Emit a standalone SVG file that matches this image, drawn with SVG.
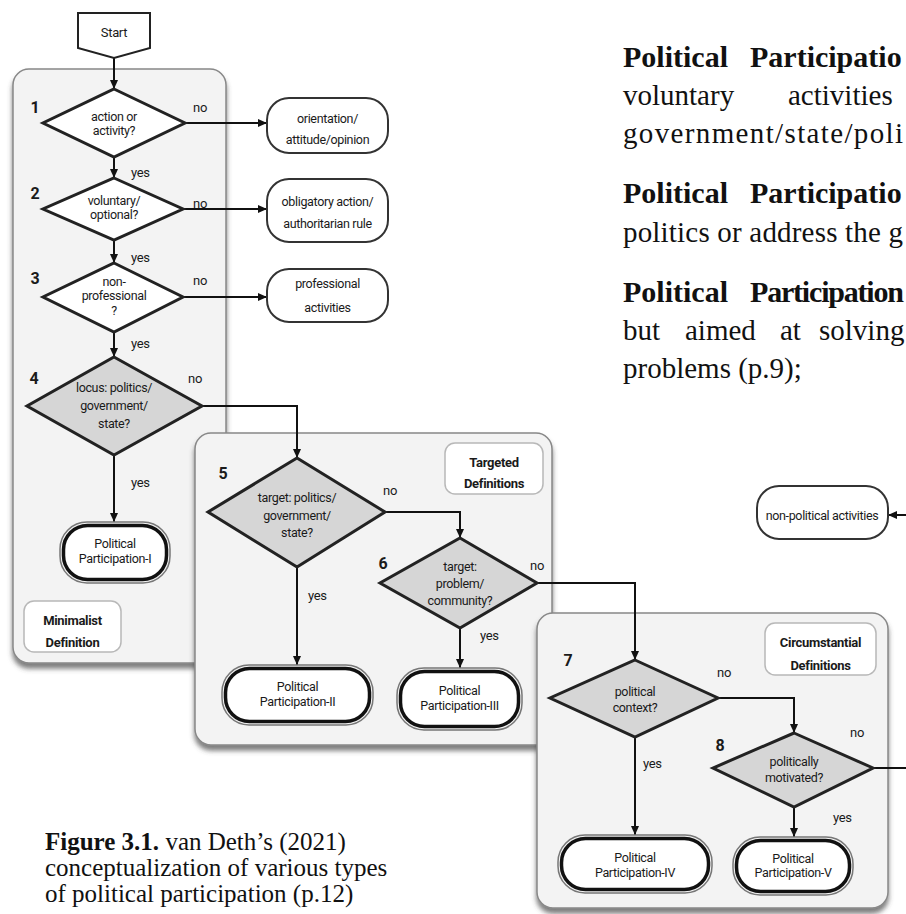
<svg xmlns="http://www.w3.org/2000/svg" width="906" height="914" viewBox="0 0 906 914">
<defs>
<style>
.panel{fill:#f3f3f3;stroke:#888;stroke-width:1.5}
.tag{fill:#fff;stroke:#b8b8b8;stroke-width:1.5}
.dw{fill:#fff;stroke:#222;stroke-width:3}
.dg{fill:#d6d6d6;stroke:#222;stroke-width:3}
.pill{fill:#fff;stroke:#333;stroke-width:2}
.ppo{fill:none;stroke:#777;stroke-width:1.5}
.ppi{fill:#fff;stroke:#111;stroke-width:3.5}
.c{fill:none;stroke:#111;stroke-width:2}
.ca{fill:none;stroke:#111;stroke-width:2;marker-end:url(#ah)}
text{font-family:Roboto,"Liberation Sans",sans-serif}
.t{font-size:12.5px;fill:#1a1a1a;text-anchor:middle;letter-spacing:-0.35px}
.yn{font-size:13px;fill:#1a1a1a;letter-spacing:-0.3px}
.no{font-size:13px;fill:#1a1a1a;text-anchor:middle;letter-spacing:-0.3px}
.n{font-size:16px;font-weight:bold;fill:#1a1a1a;text-anchor:middle}
.h{font-size:13px;font-weight:bold;fill:#1a1a1a;text-anchor:middle;letter-spacing:-0.3px}
.s{font-family:"Liberation Serif","Times New Roman",serif;fill:#111;font-size:29px}
.sb{font-family:"Liberation Serif","Times New Roman",serif;fill:#111;font-size:30px;font-weight:bold}
.cap{font-family:"Liberation Serif","Times New Roman",serif;fill:#111;font-size:25px}
</style>
<filter id="sh" x="-5%" y="-5%" width="110%" height="115%">
<feDropShadow dx="0" dy="5" stdDeviation="2.5" flood-color="#444" flood-opacity="0.7"/>
</filter>
<marker id="ah" markerUnits="userSpaceOnUse" markerWidth="9" markerHeight="8" refX="9" refY="4" orient="auto" viewBox="0 0 9 8">
<path d="M0,0 L9,4 L0,8 z" fill="#111"/>
</marker>
</defs>
<rect x="0" y="0" width="906" height="914" fill="#fff"/>

<g id="panel-minimalist"><rect class="panel" x="13" y="69" width="213" height="594" rx="16" filter="url(#sh)"/></g>
<g id="panel-targeted"><rect class="panel" x="195" y="433" width="357" height="312" rx="16" filter="url(#sh)"/></g>
<g id="panel-circumstantial"><rect class="panel" x="537" y="613" width="351" height="295" rx="16" filter="url(#sh)"/></g>

<g id="connectors">
<path class="ca" d="M114,58 V89"/>
<path class="ca" d="M114,157 V178"/>
<path class="ca" d="M114,240 V263"/>
<path class="ca" d="M114,332 V357"/>
<path class="ca" d="M114,455 V522"/>
<path class="ca" d="M185,123 H267"/>
<path class="ca" d="M183,209 H267"/>
<path class="ca" d="M183,297 H267"/>
<path class="ca" d="M202,406 H297 V458"/>
<path class="ca" d="M297,567 V665"/>
<path class="ca" d="M385,512 H460 V538"/>
<path class="ca" d="M460,628 V668"/>
<path class="ca" d="M537,583 H635 V660"/>
<path class="ca" d="M635,737 V835"/>
<path class="ca" d="M718,698 H794 V733"/>
<path class="ca" d="M794,807 V837"/>
<path class="c" d="M873,768 H906"/>
<path class="ca" d="M906,515 H888"/>
<text class="yn" x="131" y="176.5">yes</text>
<text class="yn" x="131" y="261.5">yes</text>
<text class="yn" x="131" y="347.5">yes</text>
<text class="yn" x="131" y="486.5">yes</text>
<text class="yn" x="308" y="599.5">yes</text>
<text class="yn" x="480" y="639.5">yes</text>
<text class="yn" x="643" y="767.5">yes</text>
<text class="yn" x="833" y="821.5">yes</text>
<text class="no" x="200" y="111.5">no</text>
<text class="no" x="200" y="207.5">no</text>
<text class="no" x="200" y="284.5">no</text>
<text class="no" x="195" y="382.5">no</text>
<text class="no" x="390" y="494.5">no</text>
<text class="no" x="537" y="569.5">no</text>
<text class="no" x="724" y="676.5">no</text>
<text class="no" x="857" y="736.5">no</text>
</g>

<g id="start">
<path d="M78,13 H150 V48 L114,58 L78,48 Z" fill="#fff" stroke="#222" stroke-width="2"/>
<text class="t" x="114" y="37" style="font-size:13px">Start</text>
</g>

<g id="q1">
<polygon class="dw" points="114,89 185,123 114,157 43,123"/>
<text class="n" x="35" y="113">1</text>
<text class="t" x="114" y="121">action or</text>
<text class="t" x="114" y="135">activity?</text>
</g>
<g id="q2">
<polygon class="dw" points="114,178 183,209 114,240 43,209"/>
<text class="n" x="35" y="199">2</text>
<text class="t" x="114" y="205">voluntary/</text>
<text class="t" x="114" y="219">optional?</text>
</g>
<g id="q3">
<polygon class="dw" points="114,263 183,297 114,332 43,297"/>
<text class="n" x="35" y="284">3</text>
<text class="t" x="114" y="286">non-</text>
<text class="t" x="114" y="300">professional</text>
<text class="t" x="114" y="315">?</text>
</g>
<g id="q4">
<polygon class="dg" points="114,357 202,406 114,455 27,406"/>
<text class="n" x="34" y="384">4</text>
<text class="t" x="114" y="392">locus: politics/</text>
<text class="t" x="114" y="410">government/</text>
<text class="t" x="114" y="428">state?</text>
</g>

<g id="orientation">
<rect class="pill" x="267" y="98" width="121" height="55" rx="22"/>
<text class="t" x="327.5" y="122.5">orientation/</text>
<text class="t" x="327.5" y="143.5">attitude/opinion</text>
</g>
<g id="obligatory">
<rect class="pill" x="267" y="179" width="121" height="63" rx="22"/>
<text class="t" x="327.5" y="205.5">obligatory action/</text>
<text class="t" x="327.5" y="227.5">authoritarian rule</text>
</g>
<g id="professional">
<rect class="pill" x="267" y="269" width="121" height="53" rx="22"/>
<text class="t" x="327.5" y="287.5">professional</text>
<text class="t" x="327.5" y="311.5">activities</text>
</g>

<g id="pp1">
<rect class="ppo" x="60" y="522" width="110" height="61" rx="27"/>
<rect class="ppi" x="63.5" y="525.5" width="103" height="54" rx="24"/>
<text class="t" x="115" y="548">Political</text>
<text class="t" x="115" y="562.5">Participation-I</text>
</g>
<g id="tag-minimalist">
<rect class="tag" x="24" y="601" width="97" height="51" rx="10"/>
<text class="h" x="72.5" y="624.5">Minimalist</text>
<text class="h" x="72.5" y="646.5">Definition</text>
</g>

<g id="q5">
<polygon class="dg" points="297,458 385,512 297,567 208,512"/>
<text class="n" x="223" y="479">5</text>
<text class="t" x="297" y="502">target: politics/</text>
<text class="t" x="297" y="520">government/</text>
<text class="t" x="297" y="537">state?</text>
</g>
<g id="q6">
<polygon class="dg" points="460,538 537,583 460,628 380,583"/>
<text class="n" x="383" y="569">6</text>
<text class="t" x="460" y="571">target:</text>
<text class="t" x="460" y="588">problem/</text>
<text class="t" x="460" y="605">community?</text>
</g>
<g id="pp2">
<rect class="ppo" x="222" y="665" width="151" height="60" rx="27"/>
<rect class="ppi" x="225.5" y="668.5" width="144" height="53" rx="24"/>
<text class="t" x="297.5" y="690.5">Political</text>
<text class="t" x="297.5" y="705.5">Participation-II</text>
</g>
<g id="pp3">
<rect class="ppo" x="397" y="668" width="125" height="62" rx="27"/>
<rect class="ppi" x="400.5" y="671.5" width="118" height="55" rx="24"/>
<text class="t" x="459.5" y="695">Political</text>
<text class="t" x="459.5" y="709.5">Participation-III</text>
</g>
<g id="tag-targeted">
<rect class="tag" x="445" y="443" width="98" height="51" rx="10"/>
<text class="h" x="494" y="466.5">Targeted</text>
<text class="h" x="494" y="487.5">Definitions</text>
</g>

<g id="q7">
<polygon class="dg" points="635,660 718,698 635,737 550,698"/>
<text class="n" x="568" y="666">7</text>
<text class="t" x="635" y="696">political</text>
<text class="t" x="635" y="712">context?</text>
</g>
<g id="q8">
<polygon class="dg" points="794,733 873,768 794,807 713,768"/>
<text class="n" x="720" y="751">8</text>
<text class="t" x="794" y="766">politically</text>
<text class="t" x="794" y="782">motivated?</text>
</g>
<g id="pp4">
<rect class="ppo" x="558" y="835" width="154" height="58" rx="27"/>
<rect class="ppi" x="561.5" y="838.5" width="147" height="51" rx="24"/>
<text class="t" x="635" y="861.5">Political</text>
<text class="t" x="635" y="876.5">Participation-IV</text>
</g>
<g id="pp5">
<rect class="ppo" x="733" y="837" width="120" height="58" rx="27"/>
<rect class="ppi" x="736.5" y="840.5" width="113" height="51" rx="24"/>
<text class="t" x="793" y="862.5">Political</text>
<text class="t" x="793" y="876.5">Participation-V</text>
</g>
<g id="tag-circumstantial">
<rect class="tag" x="765" y="623" width="111" height="52" rx="10"/>
<text class="h" x="820.5" y="646.5">Circumstantial</text>
<text class="h" x="820.5" y="669.5">Definitions</text>
</g>

<g id="non-political">
<rect class="pill" x="757" y="486" width="131" height="53" rx="22"/>
<text class="t" x="822" y="519.5">non-political activities</text>
</g>

<g id="body-text">
<text class="sb" x="623" y="67">Political</text>
<text class="sb" x="750" y="67">Participatio</text>
<text class="s" x="623" y="105">voluntary</text>
<text class="s" x="788" y="105">activities</text>
<text class="s" x="623" y="143" textLength="280" lengthAdjust="spacing">government/state/poli</text>
<text class="sb" x="623" y="203">Political</text>
<text class="sb" x="750" y="203">Participatio</text>
<text class="s" x="623" y="242" textLength="280" lengthAdjust="spacing">politics or address the g</text>
<text class="sb" x="623" y="302">Political</text>
<text class="sb" x="750" y="302" textLength="154" lengthAdjust="spacing">Participation</text>
<text class="s" x="623" y="340">but</text>
<text class="s" x="685" y="340">aimed</text>
<text class="s" x="780" y="340">at</text>
<text class="s" x="819" y="340">solving</text>
<text class="s" x="623" y="378">problems (p.9);</text>
</g>

<g id="caption">
<text class="cap" x="45" y="850"><tspan font-weight="bold">Figure 3.1.</tspan> van Deth’s (2021)</text>
<text class="cap" x="45" y="876">conceptualization of various types</text>
<text class="cap" x="45" y="902">of political participation (p.12)</text>
</g>
</svg>
